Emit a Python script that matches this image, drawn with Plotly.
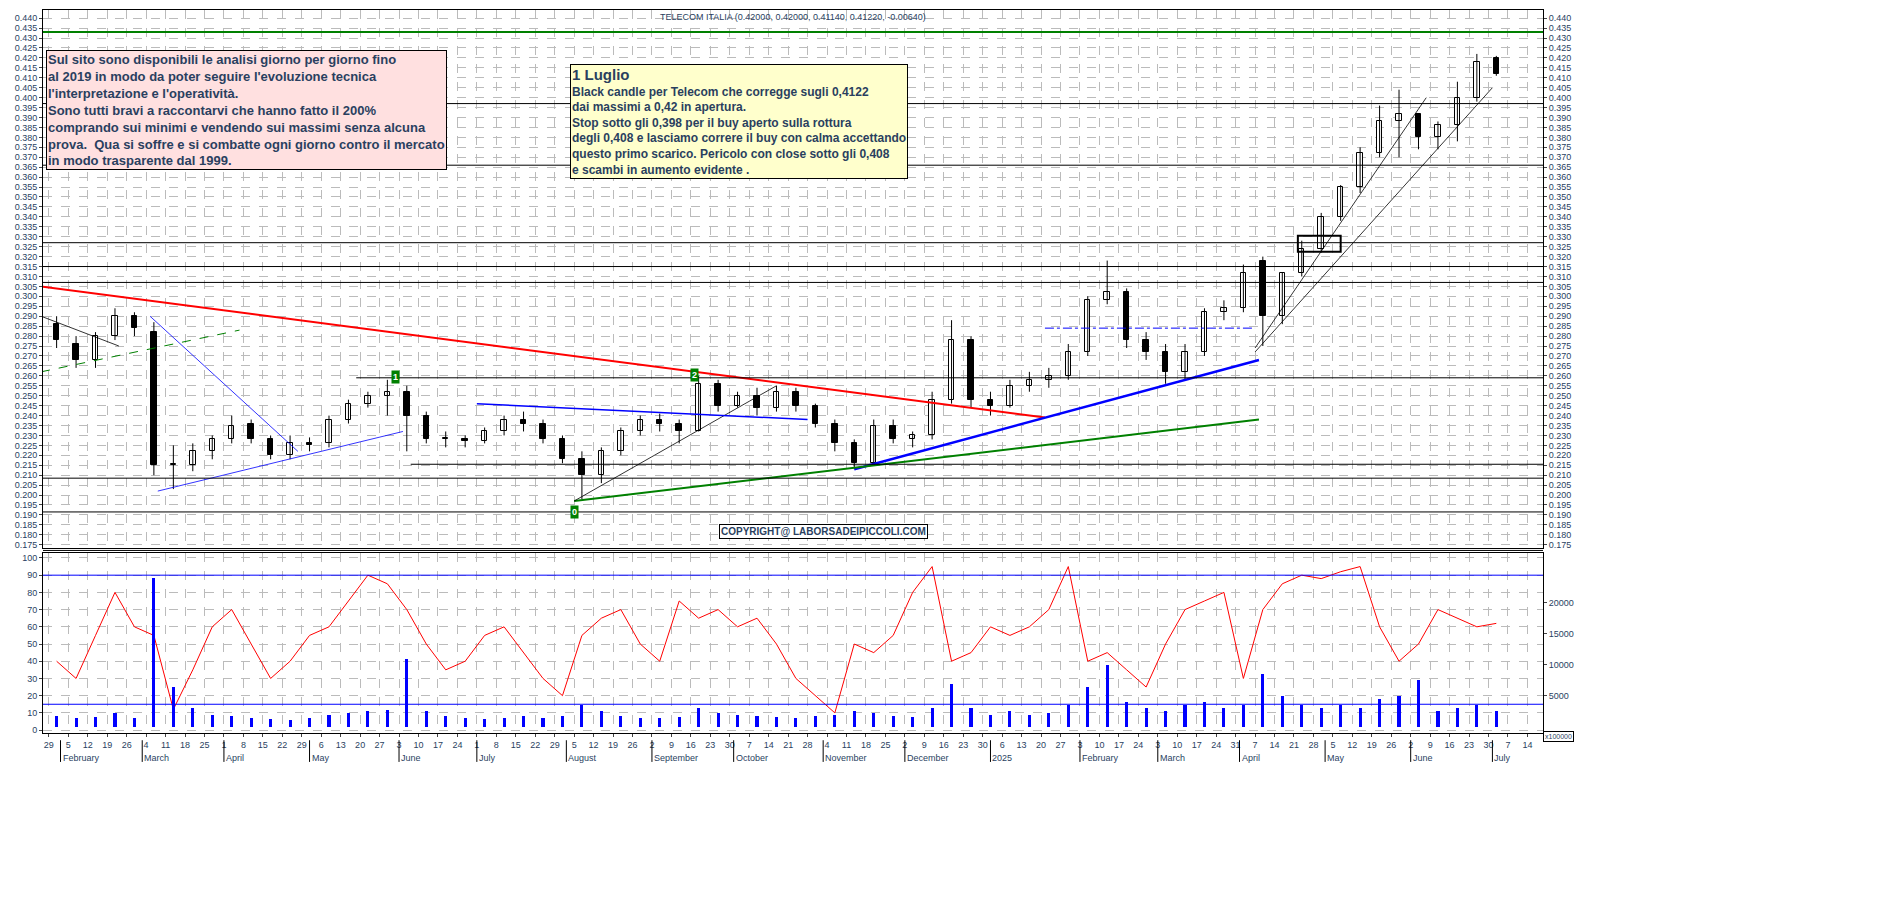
import pandas as pd
import plotly.graph_objects as go

weeks = pd.date_range("2024-01-31", periods=75, freq="7D")  # Wednesdays
opens = [0.286,0.276,0.268,0.280,0.290,0.282,0.215,0.215,0.222,0.228,0.236,0.228,0.220,0.226,0.226,0.238,0.246,0.250,0.252,0.240,
         0.228,0.228,0.227,0.232,0.238,0.236,0.228,0.218,0.210,0.222,0.232,0.238,0.236,0.232,0.256,0.245,0.250,0.244,0.252,0.245,
         0.236,0.226,0.216,0.235,0.228,0.230,0.248,0.278,0.248,0.245,0.255,0.258,0.260,0.272,0.298,0.302,0.278,0.272,0.262,0.272,
         0.292,0.294,0.318,0.290,0.312,0.324,0.340,0.355,0.372,0.388,0.392,0.380,0.386,0.400,0.420]
highs = [0.290,0.280,0.282,0.294,0.292,0.287,0.225,0.226,0.230,0.240,0.238,0.230,0.230,0.229,0.240,0.248,0.252,0.258,0.255,0.242,
         0.232,0.230,0.234,0.240,0.242,0.238,0.230,0.222,0.224,0.234,0.240,0.241,0.238,0.260,0.258,0.252,0.254,0.255,0.254,0.246,
         0.238,0.228,0.238,0.238,0.232,0.252,0.288,0.280,0.252,0.258,0.262,0.264,0.276,0.300,0.318,0.304,0.282,0.276,0.276,0.294,
         0.298,0.316,0.320,0.312,0.328,0.342,0.356,0.375,0.396,0.404,0.392,0.388,0.408,0.422,0.421]
lows = [0.274,0.264,0.264,0.278,0.280,0.210,0.203,0.212,0.218,0.226,0.226,0.218,0.218,0.222,0.224,0.236,0.244,0.240,0.222,0.226,
        0.224,0.224,0.226,0.230,0.232,0.226,0.216,0.198,0.206,0.220,0.230,0.232,0.226,0.232,0.242,0.244,0.240,0.242,0.242,0.234,
        0.222,0.213,0.215,0.226,0.224,0.228,0.246,0.244,0.240,0.244,0.252,0.254,0.258,0.270,0.296,0.274,0.268,0.256,0.258,0.270,
        0.288,0.292,0.275,0.286,0.310,0.322,0.338,0.352,0.370,0.370,0.374,0.374,0.378,0.398,0.411]
closes = [0.278,0.268,0.280,0.290,0.284,0.215,0.215,0.222,0.228,0.235,0.228,0.220,0.226,0.225,0.238,0.246,0.250,0.252,0.240,0.228,
          0.228,0.227,0.232,0.238,0.236,0.228,0.218,0.210,0.222,0.232,0.238,0.236,0.232,0.256,0.245,0.250,0.244,0.252,0.245,0.236,
          0.226,0.216,0.235,0.228,0.230,0.248,0.278,0.248,0.245,0.255,0.258,0.260,0.272,0.298,0.302,0.278,0.272,0.262,0.272,0.292,
          0.294,0.312,0.290,0.312,0.324,0.340,0.355,0.372,0.388,0.392,0.380,0.386,0.400,0.418,0.412]
volumes = [1800,1500,1600,2200,1500,24000,6500,3000,2000,1800,1500,1300,1200,1500,2000,2200,2500,2800,11000,2500,
           1800,1500,1300,1500,1700,1500,1800,3500,2500,1800,1500,1400,1600,3000,2200,2000,1800,1600,1500,1800,
           2000,2500,2200,1800,1600,3000,7000,3000,2000,2500,2000,2200,3500,6500,10000,4000,3000,2500,3500,4000,
           3000,3500,8500,5000,3500,3000,3500,3000,4500,5000,7500,2500,3000,3500,2500]
rsi = [40,30,55,80,60,55,12,35,60,70,50,30,40,55,60,75,90,85,70,50,
       35,40,55,60,45,30,20,55,65,70,50,40,75,65,70,60,65,50,30,20,
       10,50,45,55,80,95,40,45,60,55,60,70,95,40,45,35,25,50,70,75,
       80,30,70,85,90,88,92,95,60,40,50,70,65,60,62]

trend_lines = [  # (x0, y0, x1, y1, color, width, dash)
    ("2024-01-25", 0.305, "2025-01-21", 0.239, "red", 2, "solid"),
    ("2024-11-13", 0.213, "2025-04-08", 0.268, "blue", 2.5, "solid"),
    ("2024-08-05", 0.197, "2025-04-08", 0.238, "green", 2, "solid"),
    ("2024-08-05", 0.197, "2024-10-16", 0.255, "black", 0.8, "solid"),
    ("2024-07-01", 0.246, "2024-10-28", 0.238, "blue", 1.5, "solid"),
    ("2024-03-07", 0.202, "2024-06-04", 0.232, "blue", 0.8, "solid"),
    ("2024-03-05", 0.290, "2024-04-26", 0.222, "blue", 0.8, "solid"),
    ("2024-01-25", 0.290, "2024-02-22", 0.275, "black", 0.8, "solid"),
    ("2024-01-25", 0.262, "2024-04-05", 0.283, "green", 1, "dash"),
    ("2025-04-07", 0.274, "2025-06-06", 0.400, "black", 0.8, "solid"),
    ("2025-04-07", 0.272, "2025-07-01", 0.405, "black", 0.8, "solid"),
    ("2025-01-21", 0.284, "2025-04-07", 0.284, "blue", 1, "dashdot"),
]
hlines = [(0.397, "2024-01-25"), (0.366, "2024-01-25"), (0.327, "2024-01-25"), (0.315, "2024-01-25"),
          (0.307, "2024-01-25"), (0.259, "2024-05-17"), (0.2155, "2024-06-06"), (0.2085, "2024-01-25"),
          (0.1915, "2024-01-25")]

fig = go.Figure()
# wicks
wx, wy = [], []
for d, lo, hi in zip(weeks, lows, highs):
    wx += [d, d, None]; wy += [lo, hi, None]
fig.add_trace(go.Scatter(x=wx, y=wy, mode="lines", line=dict(color="black", width=1), showlegend=False, xaxis="x", yaxis="y"))
# bodies
base = [min(o, c) for o, c in zip(opens, closes)]
hgt = [max(abs(c - o), 0.0006) for o, c in zip(opens, closes)]
fills = ["white" if c >= o else "black" for o, c in zip(opens, closes)]
fig.add_trace(go.Bar(x=weeks, y=hgt, base=base, width=86400000 * 1.4, marker=dict(color=fills, line=dict(color="black", width=1)),
                     showlegend=False, xaxis="x", yaxis="y"))
fig.add_trace(go.Scatter(x=weeks, y=[None]*75, yaxis="y2", showlegend=False))
fig.add_trace(go.Bar(x=weeks, y=volumes, marker_color="blue", marker_line_width=0, width=86400000*0.8, yaxis="y4", xaxis="x2", showlegend=False))
fig.add_trace(go.Scatter(x=weeks, y=rsi, mode="lines", line=dict(color="red", width=1), yaxis="y3", xaxis="x2", showlegend=False))

shapes = []
for x0, y0, x1, y1, c, w, d in trend_lines:
    shapes.append(dict(type="line", xref="x", yref="y", x0=x0, y0=y0, x1=x1, y1=y1, line=dict(color=c, width=w, dash=d)))
for yv, xs in hlines:
    shapes.append(dict(type="line", xref="x", yref="y", x0=xs, x1="2025-07-18", y0=yv, y1=yv, line=dict(color="black", width=1)))
shapes.append(dict(type="line", xref="x", yref="y", x0="2024-01-25", x1="2025-07-18", y0=0.433, y1=0.433, line=dict(color="green", width=2)))
shapes.append(dict(type="rect", xref="x", yref="y", x0="2025-04-22", x1="2025-05-07", y0=0.3225, y1=0.3305, line=dict(color="black", width=2)))
for yv in (90, 15):
    shapes.append(dict(type="line", xref="x2", yref="y3", x0="2024-01-25", x1="2025-07-18", y0=yv, y1=yv, line=dict(color="blue", width=1)))
shapes.append(dict(type="line", xref="paper", yref="paper", x0=0, x1=1, y0=0.2525, y1=0.2525, line=dict(color="black", width=1)))

F = "Liberation Sans"
anns = [
    dict(xref="paper", yref="paper", x=0.5, y=1.0, yanchor="top", showarrow=False,
         text="TELECOM ITALIA (0.42000, 0.42000, 0.41140, 0.41220, -0.00640)", font=dict(size=9, family=F)),
    dict(xref="paper", yref="paper", x=0.002, y=0.945, xanchor="left", yanchor="top", align="left", showarrow=False,
         bgcolor="#ffe0e0", bordercolor="black", borderwidth=1,
         text="<b>Sul sito sono disponibili le analisi giorno per giorno fino<br>al 2019 in modo da poter seguire l'evoluzione tecnica<br>l'interpretazione e l'operatività.<br>Sono tutti bravi a raccontarvi che hanno fatto il 200%<br>comprando sui minimi e vendendo sui massimi senza alcuna<br>prova.  Qua si soffre e si combatte ogni giorno contro il mercato<br>in modo trasparente dal 1999.</b>",
         font=dict(size=13, family=F)),
    dict(xref="paper", yref="paper", x=0.351, y=0.925, xanchor="left", yanchor="top", align="left", showarrow=False,
         bgcolor="#ffffcc", bordercolor="black", borderwidth=1,
         text="<b><span style='font-size:15px'>1 Luglio</span><br>Black candle per Telecom che corregge sugli 0,4122<br>dai massimi a 0,42 in apertura.<br>Stop sotto gli 0,398 per il buy aperto sulla rottura<br>degli 0,408 e lasciamo correre il buy con calma accettando<br>questo primo scarico. Pericolo con close sotto gli 0,408<br>e scambi in aumento evidente .</b>",
         font=dict(size=12, family=F)),
    dict(xref="x", yref="y", x="2024-11-01", y=0.1815, showarrow=False, bgcolor="white", bordercolor="black", borderwidth=1,
         text="<b>COPYRIGHT@ LABORSADEIPICCOLI.COM</b>", font=dict(size=10, family=F)),
]
for lab, xd, yv in [("1", "2024-05-31", 0.2595), ("2", "2024-09-17", 0.2605), ("0", "2024-08-05", 0.1915)]:
    anns.append(dict(xref="x", yref="y", x=xd, y=yv, showarrow=False, text="<b>"+lab+"</b>",
                     font=dict(size=9, color="white", family=F), bgcolor="green", borderpad=1))
months = [("February","2024-02-01"),("March","2024-03-01"),("April","2024-04-01"),("May","2024-05-01"),("June","2024-06-03"),
          ("July","2024-07-01"),("August","2024-08-01"),("September","2024-09-02"),("October","2024-10-01"),("November","2024-11-01"),
          ("December","2024-12-02"),("2025","2025-01-01"),("February","2025-02-03"),("March","2025-03-03"),("April","2025-04-01"),
          ("May","2025-05-01"),("June","2025-06-02"),("July","2025-07-01")]
for m, d in months:
    anns.append(dict(xref="x2", yref="paper", x=d, y=-0.025, xanchor="left", yanchor="top", showarrow=False,
                     text=m, font=dict(size=9, family=F)))
    shapes.append(dict(type="line", xref="x2", yref="paper", x0=d, x1=d, y0=-0.01, y1=-0.04, line=dict(color="black", width=1)))
anns.append(dict(xref="paper", yref="paper", x=1.0, y=0.003, xanchor="left", yanchor="top", showarrow=False,
                 text="x100000", font=dict(size=7, family=F), bordercolor="black", borderwidth=1))

mondays = pd.date_range("2024-01-29", "2025-07-14", freq="7D")
ticktext = [str(d.day) for d in mondays]
rb = [dict(bounds=["sat", "mon"])]
xr = ["2024-01-25 12:00", "2025-07-18"]
xcommon = dict(range=xr, rangebreaks=rb, tickvals=mondays, showgrid=True, gridcolor="#bbbbbb", griddash="dash",
               linecolor="black", showline=True, mirror=True)
ycommon = dict(showgrid=True, gridcolor="#bbbbbb", griddash="dash", ticks="outside", ticklen=3,
               tickfont=dict(size=9, family=F), linecolor="black", showline=True, zeroline=False)
prange = [0.1734, 0.4441]
fig.update_layout(
    width=1890, height=903, paper_bgcolor="white", plot_bgcolor="white", barmode="overlay",
    margin=dict(l=35, r=355, t=2, b=178), shapes=shapes, annotations=anns, bargap=0,
    xaxis=dict(**xcommon, domain=[0, 1], anchor="y", showticklabels=False),
    xaxis2=dict(**xcommon, domain=[0, 1], anchor="y3", matches="x", ticktext=ticktext, tickfont=dict(size=9, family=F), ticks="outside", ticklen=3),
    yaxis=dict(**ycommon, domain=[0.256, 1], range=prange, dtick=0.005, tickformat=".3f", side="left"),
    yaxis2=dict(domain=[0.256, 1], range=prange, dtick=0.005, tickformat=".3f", overlaying="y", side="right", anchor="x",
                showgrid=False, ticks="outside", ticklen=3, tickfont=dict(size=9, family=F), linecolor="black", showline=True, zeroline=False),
    yaxis3=dict(**ycommon, domain=[0, 0.249], range=[-1.7, 102.9], dtick=10, anchor="x2", side="left"),
    yaxis4=dict(domain=[0, 0.249], range=[-970, 28000], tickvals=[5000, 10000, 15000, 20000],
                ticktext=["5000", "10000", "15000", "20000"], overlaying="y3", anchor="x2",
                side="right", showgrid=False, ticks="outside", ticklen=3, tickfont=dict(size=9, family=F),
                linecolor="black", showline=True, zeroline=False),
)
fig.write_html("out.html")
